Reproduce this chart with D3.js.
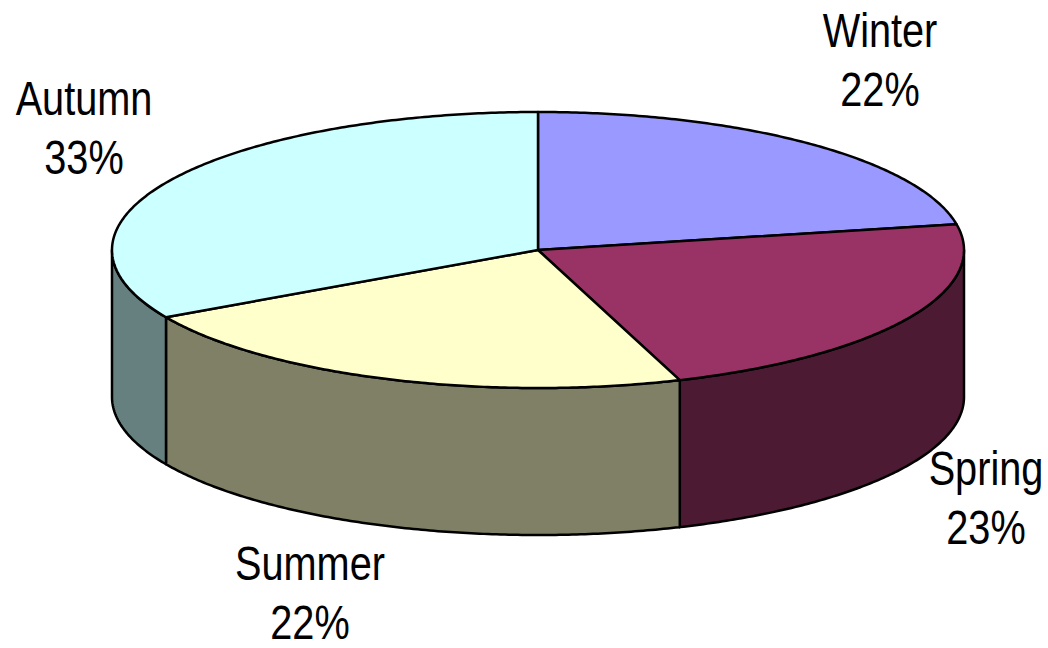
<!DOCTYPE html>
<head>
    <meta charset="utf-8">
    <script src="https://d3js.org/d3.v7.min.js"></script>
    <style>
        body { margin: 0; background: #fff; }
        text { font-family: "Liberation Sans", Arial, sans-serif; }
    </style>
</head>

<body>
    <div id="piechart"></div>
</body>

<script>

    // data (shares, labels show them rounded)
    const seasons = ["Winter", "Spring", "Summer", "Autumn"];
    const shares = [22.0, 22.6, 22.3, 33.1];
    const topColours = ["#9999ff", "#993366", "#ffffcc", "#ccffff"];
    const sideColours = ["#4d4d80", "#4d1a33", "#808066", "#668080"];

    // where Excel put each label (centre x, first baseline)
    const labelPos = {
        Winter: [880, 47],
        Spring: [986, 485],
        Summer: [310, 580],
        Autumn: [84, 115]
    };

    const width = 1048, height = 648;
    const cx = 538, cy = 250, rx = 426, ry = 138, depth = 147;

    const svg = d3.select("#piechart")
        .append("svg")
            .attr("width", width)
            .attr("height", height);

    const pie = d3.pie().sort(null).value(d => d.value)
        .startAngle(0).endAngle(2 * Math.PI);

    const arcs = pie(seasons.map((s, i) => ({name: s, value: shares[i], i: i})));

    // point on the tilted ellipse, angle from 12 o'clock clockwise
    const pt = (a, dy) => [cx + rx * Math.sin(a), cy - ry * Math.cos(a) + (dy || 0)];
    const line = d3.line();

    function arcPoints(a0, a1, dy) {
        const n = Math.max(2, Math.ceil((a1 - a0) / 0.01));
        return d3.range(n + 1).map(k => pt(a0 + (a1 - a0) * k / n, dy));
    }

    // side walls, only the front half is visible
    const front0 = Math.PI / 2, front1 = 3 * Math.PI / 2;
    const sides = arcs.filter(d => d.endAngle > front0 && d.startAngle < front1)
        .map(d => {
            const a0 = Math.max(d.startAngle, front0), a1 = Math.min(d.endAngle, front1);
            const pts = arcPoints(a0, a1, 0).concat(arcPoints(a0, a1, depth).reverse());
            return {i: d.data.i, pts: pts};
        });

    svg.selectAll(".side")
        .data(sides)
        .join("path")
            .attr("class", "side")
            .attr("fill", d => sideColours[d.i])
            .attr("stroke", "#000")
            .attr("stroke-width", 2.5)
            .attr("stroke-linejoin", "round")
            .attr("d", d => line(d.pts) + "Z");

    // top face slices
    svg.selectAll(".slice")
        .data(arcs)
        .join("path")
            .attr("class", "slice")
            .attr("fill", d => topColours[d.data.i])
            .attr("stroke", "#000")
            .attr("stroke-width", 2.5)
            .attr("stroke-linejoin", "round")
            .attr("d", d => line([[cx, cy]].concat(arcPoints(d.startAngle, d.endAngle, 0))) + "Z");

    // labels
    const labels = svg.selectAll(".label")
        .data(arcs)
        .join("text")
            .attr("class", "label")
            .attr("text-anchor", "middle")
            .attr("font-size", 49)
            .attr("fill", "#000")
            .attr("transform", d => {
                const p = labelPos[d.data.name];
                return `translate(${p[0]},${p[1]}) scale(0.81,1)`;
            });

    labels.append("tspan")
        .attr("x", 0).attr("y", 0)
        .text(d => d.data.name);
    labels.append("tspan")
        .attr("x", 0).attr("y", 59)
        .text(d => Math.round(d.data.value) + "%");

</script>
</html>
